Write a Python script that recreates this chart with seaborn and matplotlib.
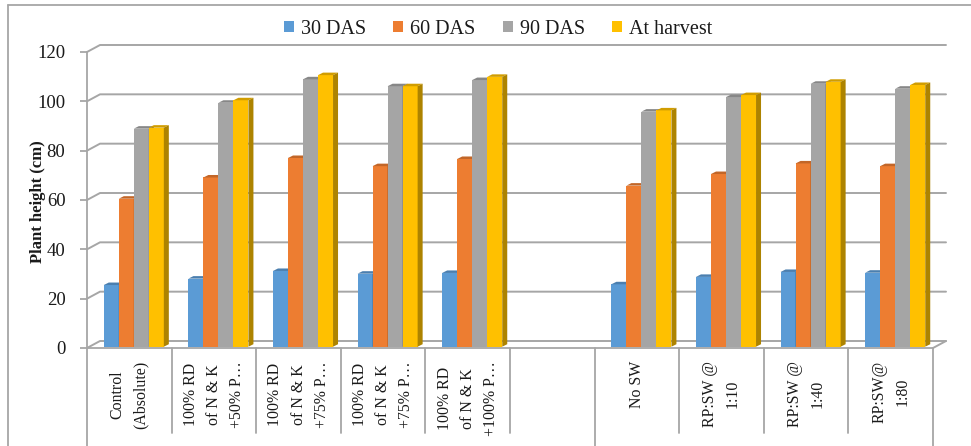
import numpy as np
import pandas as pd
import matplotlib
matplotlib.use("Agg")
import matplotlib.pyplot as plt
import matplotlib.colors as mcolors
from matplotlib.patches import Polygon, Patch
from matplotlib.lines import Line2D
from matplotlib.transforms import ScaledTranslation, blended_transform_factory
import seaborn as sns

# ---- data -------------------------------------------------------------
treatments = ["T1", "T2", "T3", "T4", "T5", "blank", "S1", "S2", "S3", "S4"]
tick_labels = [
    "Control\n(Absolute)",
    "100% RD\nof N & K\n+50% P…",
    "100% RD\nof N & K\n+75% P…",
    "100% RD\nof N & K\n+75% P…",
    "100% RD\nof N & K\n+100% P…",
    "",
    "No SW",
    "RP:SW @\n1:10",
    "RP:SW @\n1:40",
    "RP:SW@\n1:80",
]
planted = ["T1", "T2", "T3", "T4", "T5", "S1", "S2", "S3", "S4"]
series = ["30 DAS", "60 DAS", "90 DAS", "At harvest"]
das30 = [25.0, 27.6, 30.7, 29.6, 29.9, 25.3, 28.3, 30.3, 30.0]
das60 = [60.0, 68.6, 76.5, 73.2, 76.1, 65.3, 70.0, 74.3, 73.2]
das90 = [88.4, 98.9, 108.4, 105.6, 108.1, 95.3, 101.2, 106.6, 104.6]
harvest = [88.8, 99.9, 110.1, 105.6, 109.4, 95.8, 102.0, 107.4, 106.1]
colors = ["#5B9BD5", "#ED7D31", "#A5A5A5", "#FFC000"]
y_ticks = [0, 20, 40, 60, 80, 100, 120]

df = pd.concat(
    [pd.DataFrame({"treatment": planted, "series": s, "height": v})
     for s, v in zip(series, [das30, das60, das90, harvest])],
    ignore_index=True,
)

# ---- style ------------------------------------------------------------
sns.set_theme(style="white")
plt.rcParams["font.family"] = ["Liberation Serif", "DejaVu Serif"]
line_col = "#A6A6A6"

W, H = 971, 446
fig = plt.figure(figsize=(W / 100, H / 100), dpi=100)
ax_l, ax_r, ax_b, ax_t = 87, 933, 348, 52
ax = fig.add_axes([ax_l / W, (H - ax_b) / H, (ax_r - ax_l) / W, (ax_b - ax_t) / H])

sns.barplot(data=df, x="treatment", y="height", hue="series",
            order=treatments, hue_order=series, palette=colors,
            width=0.71, gap=0, saturation=1, errorbar=None,
            linewidth=0, edgecolor="none", legend=False, ax=ax)

ax.set_xlim(-0.5, len(treatments) - 0.5)
ax.set_ylim(0, 120)

# pixel -> data conversion factors
sx = (len(treatments)) / (ax_r - ax_l)
sy = 120 / (ax_b - ax_t)

# ---- pseudo-3D bars: a top cap and a right side face per bar ----------
shift = ax.transData + ScaledTranslation(4.5 / 100, 1.3 / 100, fig.dpi_scale_trans)
bdx, bdy = 5 * sx, 2.5 * sy
bars = sorted([p for p in ax.patches if p.get_height() > 0], key=lambda p: p.get_x())
for k, p in enumerate(bars):
    x0, w, h = p.get_x(), p.get_width(), p.get_height()
    x1 = x0 + w
    base = np.array(mcolors.to_rgb(p.get_facecolor()))
    p.set_transform(shift)
    p.set_zorder(3 + 0.01 * k)
    top = Polygon([(x0, h), (x1, h), (x1 + bdx, h + bdy), (x0 + bdx, h + bdy)],
                  closed=True, facecolor=base * 0.82, edgecolor="none",
                  transform=shift, zorder=3 + 0.01 * k + 0.005, clip_on=False)
    side = Polygon([(x1, 0), (x1 + bdx, bdy), (x1 + bdx, h + bdy), (x1, h)],
                   closed=True, facecolor=base * 0.68, edgecolor="none",
                   transform=shift, zorder=3 + 0.01 * k + 0.005, clip_on=False)
    ax.add_patch(top)
    ax.add_patch(side)

# ---- back wall gridlines and floor -----------------------------------
wdx, wdy = 13 * sx, 7 * sy
xl, xr = -0.5, len(treatments) - 0.5
for yt in y_ticks:
    ax.plot([xl, xl + wdx, xr + wdx], [yt, yt + wdy, yt + wdy],
            color=line_col, lw=1.4, clip_on=False, zorder=1)
ax.plot([xr, xr + wdx], [0, wdy], color=line_col, lw=1.4, clip_on=False, zorder=1)

# ---- axes styling -----------------------------------------------------
for s in ["top", "right"]:
    ax.spines[s].set_visible(False)
for s in ["left", "bottom"]:
    ax.spines[s].set_color(line_col)
    ax.spines[s].set_linewidth(1.3)
ax.set_yticks(y_ticks)
ax.tick_params(axis="y", direction="out", length=5, width=1.3, color=line_col,
               labelsize=13.5, pad=10.5, labelcolor="#1a1a1a", left=True)
ax.set_xticks(range(len(treatments)))
ax.set_xticklabels(tick_labels, rotation=90, fontsize=11.4, linespacing=1.6,
                   multialignment="center", color="#1a1a1a")
ax.tick_params(axis="x", length=0, pad=9.4, bottom=False)
ax.set_xlabel("")
ax.set_ylabel("Plant height (cm)", fontsize=12, fontweight="bold", color="#1a1a1a")
ax.yaxis.set_label_coords((38 - ax_l) / (ax_r - ax_l), (ax_b - 202) / (ax_b - ax_t))
ax.yaxis.label.set_va("center")

# category separators below the floor (long ones split the two groups)
trans = blended_transform_factory(ax.transData, ax.transAxes)
short_end = -(433 - ax_b) / (ax_b - ax_t)
long_end = -(H + 5 - ax_b) / (ax_b - ax_t)
group_edges = [xl, 5.5, xr]
for b in np.arange(xl, xr + 0.01, 1.0):
    end = long_end if any(abs(b - g) < 1e-6 for g in group_edges) else short_end
    ax.plot([b, b], [0, end], transform=trans, color=line_col, lw=1.3,
            clip_on=False, zorder=1)

# ---- legend -----------------------------------------------------------
handles = [Patch(facecolor=c, edgecolor="none", label=s) for c, s in zip(colors, series)]
fig.legend(handles=handles, loc="center", bbox_to_anchor=(0.513, 1 - 29 / H),
           ncol=4, frameon=False, fontsize=14.5, handlelength=0.5,
           handleheight=0.5, handletextpad=0.35, columnspacing=1.35,
           borderaxespad=0, labelcolor="#1a1a1a")

# chart frame (left and top edges)
fig.add_artist(Line2D([8 / W, 8 / W], [0, 1 - 5 / H], transform=fig.transFigure,
                      color=line_col, lw=1.3))
fig.add_artist(Line2D([8 / W, 1], [1 - 5 / H, 1 - 5 / H], transform=fig.transFigure,
                      color=line_col, lw=1.3))

fig.savefig("out.png", dpi=100)
